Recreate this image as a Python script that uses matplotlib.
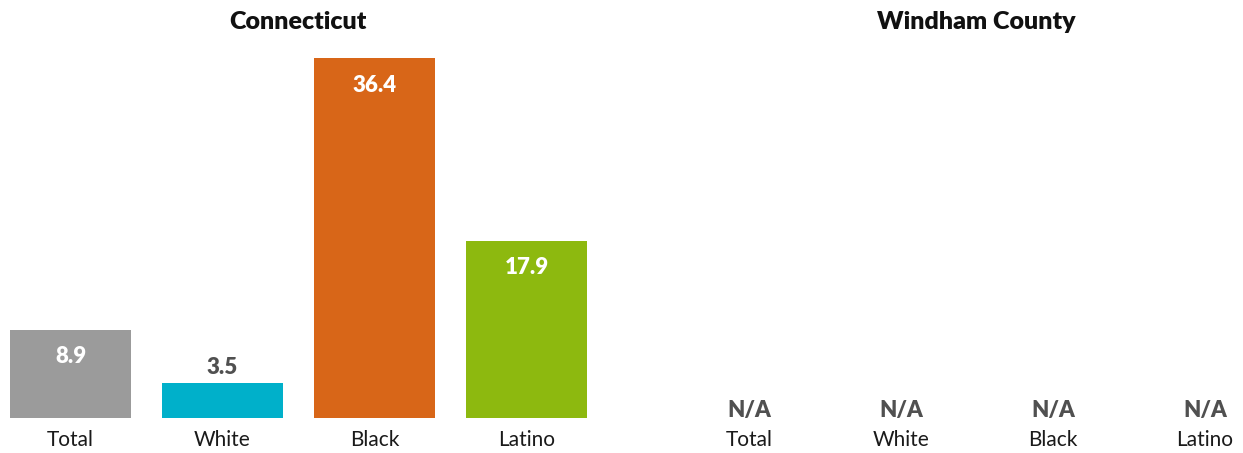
import matplotlib
matplotlib.use("Agg")
import matplotlib.pyplot as plt

plt.rcParams['font.family'] = ['Lato', 'DejaVu Sans']

categories = ["Total", "White", "Black", "Latino"]
ct_values = [8.9, 3.5, 36.4, 17.9]
windham_values = [None, None, None, None]
colors = ["#9b9b9b", "#00b0ca", "#d86618", "#8db90f"]
titles = ["Connecticut", "Windham County"]

W, H = 1243, 453
fig = plt.figure(figsize=(W / 100, H / 100), dpi=100)

step = 152
ymax = 36.4


def make_axes(left_px, right_px, xmin):
    xmax = xmin + (right_px - left_px) / step
    ax = fig.add_axes([left_px / W, 35 / H, (right_px - left_px) / W, 360 / H])
    ax.set_xlim(xmin, xmax)
    ax.set_ylim(0, ymax)
    for s in ax.spines.values():
        s.set_visible(False)
    ax.set_yticks([])
    ax.set_xticks(range(len(categories)))
    ax.set_xticklabels(categories, fontsize=15, color="#1a1a1a")
    ax.tick_params(axis="x", length=0, pad=9)
    return ax


ax1 = make_axes(0, 602.5, -0.464)
bars = ax1.bar(range(len(categories)), ct_values, width=0.8, color=colors)
px_per_unit = 360 / ymax
for i, v in enumerate(ct_values):
    if v * px_per_unit > 50:
        ax1.annotate(f"{v}", (i, v), xytext=(0, -27), textcoords="offset pixels",
                     ha="center", va="center", fontsize=16, fontweight="heavy",
                     color="white")
    else:
        ax1.annotate(f"{v}", (i, v), xytext=(0, 16), textcoords="offset pixels",
                     ha="center", va="center", fontsize=16, fontweight="heavy",
                     color="#505050")
fig.text(298 / W, 1 - 22 / H, titles[0], ha="center", va="center",
         fontsize=18, fontweight="heavy", color="#111111")

ax2 = make_axes(673, 1243, -0.5)
for i, v in enumerate(windham_values):
    if v is None:
        ax2.annotate("N/A", (i, 0), xytext=(0, 7), textcoords="offset pixels",
                     ha="center", va="center", fontsize=16, fontweight="heavy",
                     color="#505050")
fig.text(976 / W, 1 - 22 / H, titles[1], ha="center", va="center",
         fontsize=18, fontweight="heavy", color="#111111")

fig.savefig("out.png", dpi=100)
